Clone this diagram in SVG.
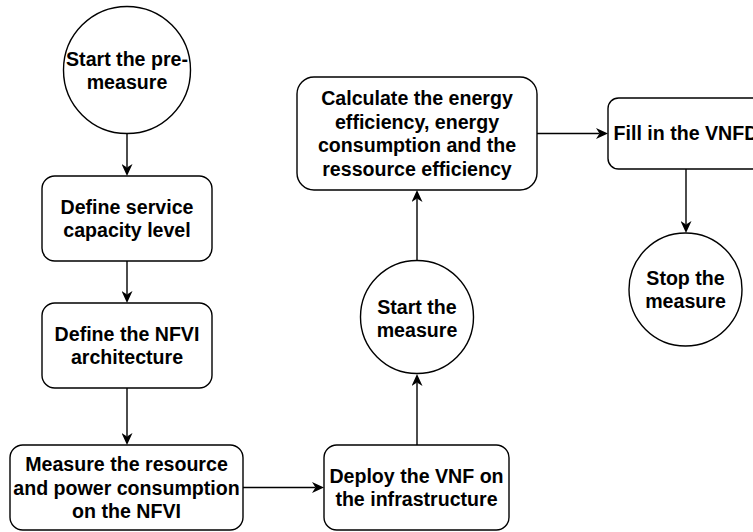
<svg xmlns="http://www.w3.org/2000/svg" width="753" height="532" viewBox="0 0 753 532">
<style>
.s{fill:#fff;stroke:#000;stroke-width:1.4}
.t{font-family:"Liberation Sans",Arial,sans-serif;font-weight:bold;font-size:19.6px;fill:#000;text-anchor:middle}
.c{fill:none;stroke:#000;stroke-width:1.4}
</style>
<defs>
<marker id="arr" viewBox="0 0 12 11" refX="3.5" refY="5.5" markerWidth="12" markerHeight="11" markerUnits="userSpaceOnUse" orient="auto">
<path d="M0,0 L12,5.5 L0,11 L3.5,5.5 Z" fill="#000"/>
</marker>
</defs>
<rect width="753" height="532" fill="#fff"/>
<g id="connectors">
<path class="c" d="M127,134 L127,167.5" marker-end="url(#arr)"/>
<path class="c" d="M127,261 L127,294.5" marker-end="url(#arr)"/>
<path class="c" d="M127,388 L127,436.5" marker-end="url(#arr)"/>
<path class="c" d="M243,487.5 L315.5,487.5" marker-end="url(#arr)"/>
<path class="c" d="M417,445 L417,382.5" marker-end="url(#arr)"/>
<path class="c" d="M417,260 L417,198.5" marker-end="url(#arr)"/>
<path class="c" d="M537,133.5 L599.5,133.5" marker-end="url(#arr)"/>
<path class="c" d="M686,169 L686,224.5" marker-end="url(#arr)"/>
</g>
<g id="start-pre">
<circle class="s" cx="127" cy="70" r="63.5"/>
<text class="t" x="127" y="65.5">Start the pre-</text>
<text class="t" x="127" y="89">measure</text>
</g>
<g id="define-capacity">
<rect class="s" x="42" y="176" width="170" height="85" rx="12.75"/>
<text class="t" x="127" y="213.5">Define service</text>
<text class="t" x="127" y="237">capacity level</text>
</g>
<g id="define-nfvi">
<rect class="s" x="42" y="303" width="170" height="85" rx="12.75"/>
<text class="t" x="127" y="340.5">Define the NFVI</text>
<text class="t" x="127" y="364">architecture</text>
</g>
<g id="measure-resource">
<rect class="s" x="10" y="445" width="233" height="85" rx="12.75"/>
<text class="t" x="126.5" y="471">Measure the resource</text>
<text class="t" x="126.5" y="494.5">and power consumption</text>
<text class="t" x="126.5" y="518">on the NFVI</text>
</g>
<g id="deploy-vnf">
<rect class="s" x="324" y="445" width="185" height="85" rx="12.75"/>
<text class="t" x="416.5" y="482.5">Deploy the VNF on</text>
<text class="t" x="416.5" y="506">the infrastructure</text>
</g>
<g id="start-measure">
<circle class="s" cx="417" cy="317" r="56.5"/>
<text class="t" x="417" y="313.5">Start the</text>
<text class="t" x="417" y="337">measure</text>
</g>
<g id="calculate">
<rect class="s" x="297" y="77" width="240" height="113" rx="17"/>
<text class="t" x="417" y="105">Calculate the energy</text>
<text class="t" x="417" y="128.5">efficiency, energy</text>
<text class="t" x="417" y="152">consumption and the</text>
<text class="t" x="417" y="175.5">ressource efficiency</text>
</g>
<g id="fill-vnfd">
<rect class="s" x="608" y="98" width="156" height="71" rx="10.6"/>
<text class="t" x="686" y="140.3">Fill in the VNFD</text>
</g>
<g id="stop-measure">
<circle class="s" cx="685.5" cy="289.5" r="56.5"/>
<text class="t" x="685.5" y="284.5">Stop the</text>
<text class="t" x="685.5" y="308">measure</text>
</g>
</svg>
